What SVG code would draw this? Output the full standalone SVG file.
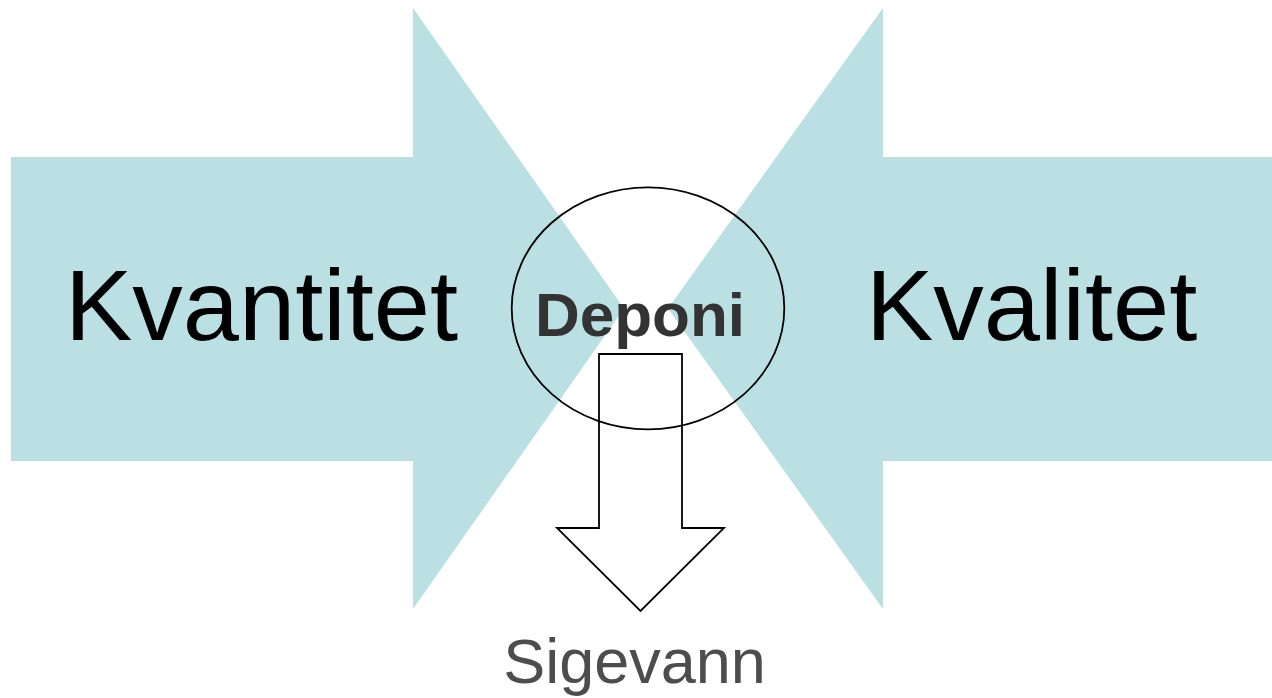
<svg xmlns="http://www.w3.org/2000/svg" width="1272" height="698" viewBox="0 0 1272 698">
<style>
.big{fill:#bae0e3;stroke:none}
.outline{fill:#ffffff;stroke:#000;stroke-width:1.8}
.lbl{font-family:"Liberation Sans",Arial,sans-serif;font-size:101px;fill:#000}
.dep{font-family:"Liberation Sans",Arial,sans-serif;font-size:62px;font-weight:bold;fill:#333333}
.sig{font-family:"Liberation Sans",Arial,sans-serif;font-size:63px;fill:#4d4d4d}
</style>
<rect width="1272" height="698" fill="#ffffff"/>
<g id="kvantitet">
<polygon class="big" points="11,157 413,157 413,8 624,308.5 413,609 413,461 11,461"/>
<text class="lbl" x="65" y="340">Kvantitet</text>
</g>
<g id="kvalitet">
<polygon class="big" points="1272,157 883,157 883,8 668,308.5 883,609 883,461 1272,461"/>
<text class="lbl" x="866" y="340">Kvalitet</text>
</g>
<g id="connectors">
<polygon class="outline" points="599,354 682,354 682,528 724,528 640.5,611 557,528 599,528"/>
</g>
<g id="deponi">
<ellipse cx="648" cy="308.3" rx="136.3" ry="121" fill="none" stroke="#000" stroke-width="1.8"/>
<text class="dep" x="640" y="336" text-anchor="middle">Deponi</text>
</g>
<g id="sigevann">
<text class="sig" x="634.5" y="683" text-anchor="middle">Sigevann</text>
</g>
</svg>
